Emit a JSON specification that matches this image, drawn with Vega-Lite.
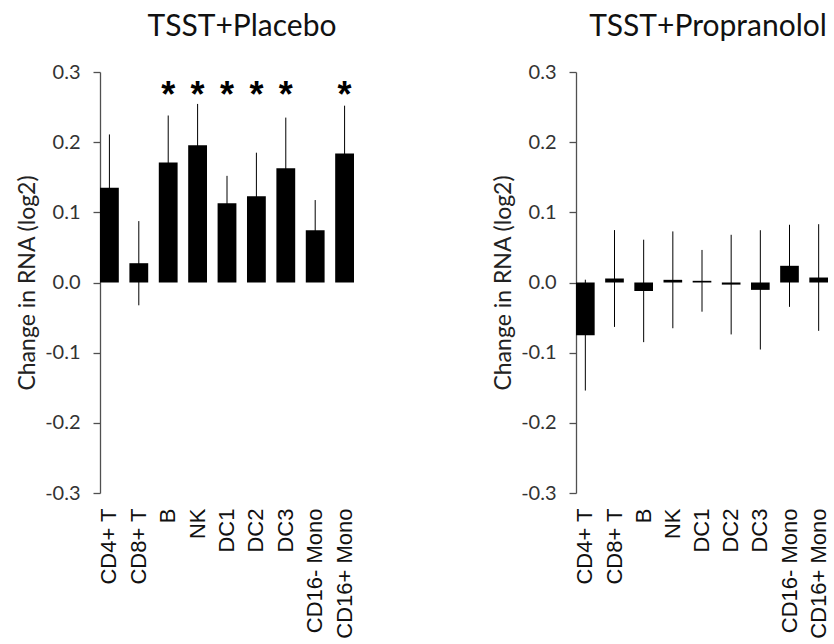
{
  "$schema": "https://vega.github.io/schema/vega-lite/v6.json",
  "padding": {"left": 16, "top": 12, "right": 2, "bottom": 0},
  "background": "white",
  "spacing": 136,
  "datasets": {
    "cells": [
      {"panel": "Placebo", "cell": "CD4+ T", "value": 0.135, "err": 0.076, "sig": false},
      {"panel": "Placebo", "cell": "CD8+ T", "value": 0.0275, "err": 0.06, "sig": false},
      {"panel": "Placebo", "cell": "B", "value": 0.171, "err": 0.067, "sig": true},
      {"panel": "Placebo", "cell": "NK", "value": 0.1955, "err": 0.059, "sig": true},
      {"panel": "Placebo", "cell": "DC1", "value": 0.113, "err": 0.039, "sig": true},
      {"panel": "Placebo", "cell": "DC2", "value": 0.123, "err": 0.062, "sig": true},
      {"panel": "Placebo", "cell": "DC3", "value": 0.163, "err": 0.072, "sig": true},
      {"panel": "Placebo", "cell": "CD16- Mono", "value": 0.0745, "err": 0.043, "sig": false},
      {"panel": "Placebo", "cell": "CD16+ Mono", "value": 0.184, "err": 0.068, "sig": true},
      {"panel": "Propranolol", "cell": "CD4+ T", "value": -0.075, "err": 0.079, "sig": false},
      {"panel": "Propranolol", "cell": "CD8+ T", "value": 0.0057, "err": 0.069, "sig": false},
      {"panel": "Propranolol", "cell": "B", "value": -0.012, "err": 0.073, "sig": false},
      {"panel": "Propranolol", "cell": "NK", "value": 0.0038, "err": 0.069, "sig": false},
      {"panel": "Propranolol", "cell": "DC1", "value": 0.0024, "err": 0.044, "sig": false},
      {"panel": "Propranolol", "cell": "DC2", "value": -0.003, "err": 0.071, "sig": false},
      {"panel": "Propranolol", "cell": "DC3", "value": -0.0105, "err": 0.085, "sig": false},
      {"panel": "Propranolol", "cell": "CD16- Mono", "value": 0.0238, "err": 0.0585, "sig": false},
      {"panel": "Propranolol", "cell": "CD16+ Mono", "value": 0.0071, "err": 0.076, "sig": false}
    ]
  },
  "hconcat": [
    {
      "title": {"text": "TSST+Placebo", "dx": 15},
      "width": 254,
      "height": 421,
      "data": {"name": "cells"},
      "transform": [{"filter": "datum.panel === 'Placebo'"}],
      "encoding": {
        "x": {
          "field": "cell", "type": "nominal", "sort": null, "title": null,
          "scale": {"paddingInner": 0.36, "paddingOuter": 0}
        }
      },
      "layer": [
        {"mark": {"type": "bar", "color": "black"},
         "encoding": {"y": {"field": "value", "type": "quantitative", "title": "Change in RNA (log2)",
           "scale": {"domain": [-0.3, 0.3], "nice": false, "zero": false},
           "axis": {"values": [-0.3, -0.2, -0.1, 0, 0.1, 0.2, 0.3], "format": ".1f",
                    "labelExpr": "replace(datum.label, '\u2212', '-')"}}}},
        {"mark": {"type": "errorbar", "color": "black", "ticks": false, "thickness": 1},
         "encoding": {"y": {"field": "value", "type": "quantitative", "title": "Change in RNA (log2)"}, "yError": {"field": "err"}}},
        {"mark": {"type": "rule", "color": "#505050", "strokeWidth": 1.3},
         "encoding": {"y": {"datum": 0}}},
        {"transform": [{"filter": "datum.sig"}],
         "mark": {"type": "text", "text": "*", "font": "Liberation Sans", "fontWeight": "bold", "fontSize": 36, "baseline": "middle", "dy": 8},
         "encoding": {"y": {"datum": 0.277}}}
      ]
    },
    {
      "title": {"text": "TSST+Propranolol", "dx": 6},
      "width": 252,
      "height": 421,
      "data": {"name": "cells"},
      "transform": [{"filter": "datum.panel === 'Propranolol'"}],
      "encoding": {
        "x": {
          "field": "cell", "type": "nominal", "sort": null, "title": null,
          "scale": {"paddingInner": 0.36, "paddingOuter": 0}
        }
      },
      "layer": [
        {"mark": {"type": "bar", "color": "black"},
         "encoding": {"y": {"field": "value", "type": "quantitative", "title": "Change in RNA (log2)",
           "scale": {"domain": [-0.3, 0.3], "nice": false, "zero": false},
           "axis": {"values": [-0.3, -0.2, -0.1, 0, 0.1, 0.2, 0.3], "format": ".1f",
                    "labelExpr": "replace(datum.label, '\u2212', '-')"}}}},
        {"mark": {"type": "errorbar", "color": "black", "ticks": false, "thickness": 1},
         "encoding": {"y": {"field": "value", "type": "quantitative", "title": "Change in RNA (log2)"}, "yError": {"field": "err"}}},
        {"mark": {"type": "rule", "color": "#505050", "strokeWidth": 1.3},
         "encoding": {"y": {"datum": 0}}}
      ]
    }
  ],
  "config": {
    "view": {"stroke": null},
    "title": {"font": "Lato", "fontSize": 30, "fontWeight": "normal", "color": "#111111", "anchor": "middle", "offset": 20},
    "axisY": {
      "grid": false,
      "domainColor": "#505050",
      "domainWidth": 1.3,
      "tickColor": "#505050",
      "tickWidth": 1.3,
      "tickSize": 7,
      "labelPadding": 13,
      "labelFont": "Lato",
      "labelFontSize": 20,
      "labelColor": "#333333",
      "titleFont": "Lato",
      "titleFontSize": 23,
      "titleFontWeight": "normal",
      "titleColor": "#222222",
      "titlePadding": 5
    },
    "axisX": {
      "domain": false,
      "ticks": false,
      "tickSize": 0,
      "labelAngle": -90,
      "labelPadding": 15,
      "labelFont": "Liberation Sans",
      "labelFontSize": 22,
      "labelColor": "#111111"
    }
  }
}
